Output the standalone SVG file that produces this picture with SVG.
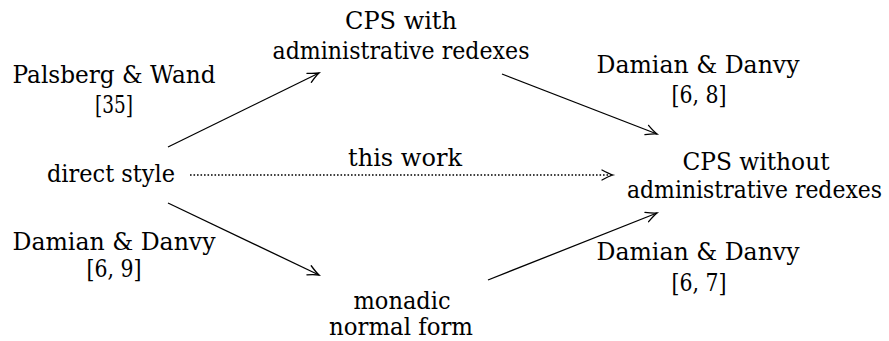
<svg xmlns="http://www.w3.org/2000/svg" width="889" height="341" viewBox="0 0 889 341">
  <style>
    .lbl { font-family: "DejaVu Serif", serif; font-size: 24px; fill: #000; text-anchor: middle; }
    .edge { fill: none; stroke: #000; stroke-width: 1.3; marker-end: url(#tip); }
    .dotted { stroke-dasharray: 1.6 1.9; stroke-width: 1.6; }
  </style>
  <defs>
    <marker id="tip" markerUnits="userSpaceOnUse" markerWidth="16" markerHeight="16" refX="0" refY="0" viewBox="-12 -8 14 16" orient="auto">
      <path d="M -11 -5 Q -4 -1.2 0 0 Q -4 1.2 -11 5" fill="none" stroke="#000" stroke-width="1.3" stroke-linecap="round"/>
    </marker>
  </defs>

  <g id="connectors">
    <path class="edge" d="M 168 147 L 319 73"/>
    <path class="edge" d="M 502 74 L 657 134"/>
    <path class="edge" d="M 168 203 L 319 275"/>
    <path class="edge" d="M 488 280 L 657 213"/>
    <path class="edge dotted" d="M 190 175 L 613 175"/>
  </g>

  <g id="direct-style">
    <text class="lbl" x="111" y="182" textLength="128" lengthAdjust="spacingAndGlyphs">direct style</text>
  </g>
  <g id="cps-with">
    <text class="lbl" x="401" y="29" textLength="112" lengthAdjust="spacingAndGlyphs">CPS with</text>
    <text class="lbl" x="401" y="59" textLength="257" lengthAdjust="spacingAndGlyphs">administrative redexes</text>
  </g>
  <g id="cps-without">
    <text class="lbl" x="756" y="170" textLength="147" lengthAdjust="spacingAndGlyphs">CPS without</text>
    <!-- right-aligned so the line stays inside the canvas -->
    <text class="lbl" x="882" y="198" style="text-anchor:end" textLength="255" lengthAdjust="spacingAndGlyphs">administrative redexes</text>
  </g>
  <g id="monadic">
    <text class="lbl" x="402" y="309" textLength="97" lengthAdjust="spacingAndGlyphs">monadic</text>
    <text class="lbl" x="401" y="335" textLength="144" lengthAdjust="spacingAndGlyphs">normal form</text>
  </g>

  <g id="label-palsberg">
    <text class="lbl" x="114" y="83" textLength="203" lengthAdjust="spacingAndGlyphs">Palsberg &amp; Wand</text>
    <text class="lbl" x="114" y="113" textLength="38" lengthAdjust="spacingAndGlyphs">[35]</text>
  </g>
  <g id="label-68">
    <text class="lbl" x="698" y="73" textLength="203" lengthAdjust="spacingAndGlyphs">Damian &amp; Danvy</text>
    <text class="lbl" x="699" y="103" textLength="55" lengthAdjust="spacingAndGlyphs">[6, 8]</text>
  </g>
  <g id="label-69">
    <text class="lbl" x="114" y="250" textLength="203" lengthAdjust="spacingAndGlyphs">Damian &amp; Danvy</text>
    <text class="lbl" x="114" y="277" textLength="55" lengthAdjust="spacingAndGlyphs">[6, 9]</text>
  </g>
  <g id="label-67">
    <text class="lbl" x="698" y="260" textLength="203" lengthAdjust="spacingAndGlyphs">Damian &amp; Danvy</text>
    <text class="lbl" x="699" y="291" textLength="55" lengthAdjust="spacingAndGlyphs">[6, 7]</text>
  </g>
  <g id="label-this-work">
    <text class="lbl" x="405" y="166" textLength="114" lengthAdjust="spacingAndGlyphs">this work</text>
  </g>
</svg>
